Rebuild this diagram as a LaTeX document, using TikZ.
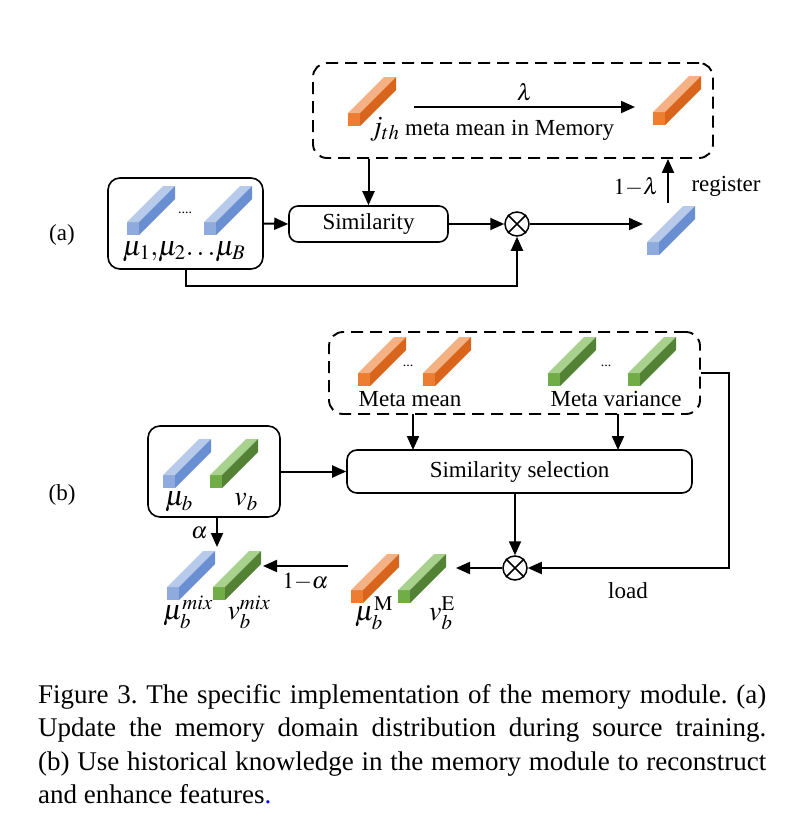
\documentclass[tikz,border=0pt]{standalone}
\usepackage{mathptmx}
\usepackage{fontspec}
\setmainfont{Liberation Serif}
\usetikzlibrary{arrows.meta}
\definecolor{oraF}{HTML}{ED7D31}
\definecolor{oraT}{HTML}{F4B183}
\definecolor{oraS}{HTML}{D8651B}
\definecolor{bluF}{HTML}{8FAADC}
\definecolor{bluT}{HTML}{B8CAEA}
\definecolor{bluS}{HTML}{6A8ED2}
\definecolor{greF}{HTML}{70AD47}
\definecolor{greT}{HTML}{A9D18E}
\definecolor{greS}{HTML}{548235}
\def\featbar(#1,#2)#3{%
	\fill[#3F] (#1,#2) rectangle ++(12,13);
	\fill[#3T] (#1,#2) -- ++(12,0) -- ++(36,-36) -- ++(-12,0) -- cycle;
	\fill[#3S] (#1+12,#2) -- ++(0,13) -- ++(36,-36) -- ++(0,-13) -- cycle;
}
\frenchspacing

\begin{document}
\begin{tikzpicture}[x=1pt,y=-1pt,
		every node/.style={font=\fontsize{23}{27}\selectfont},
		mlbl/.style={font=\fontsize{28}{30}\selectfont,inner sep=0pt},
		arr/.style={-{Triangle[length=14pt,width=12pt]},line width=2pt},
		box/.style={draw,line width=1.6pt,rounded corners=9pt,inner sep=0pt},
		dbox/.style={box,line width=1.9pt,dash pattern=on 12pt off 7pt,rounded corners=14pt},
		mult/.style={draw,circle,line width=1.5pt,minimum size=24pt,inner sep=0pt}]
				\useasboundingbox (0,0) rectangle (810,836);
				
				\node (la) at (62,235) {(a)};
				\node[dbox,minimum width=400pt,minimum height=95pt] (mem) at (513,110.5) {};
				\featbar(348,113){ora}
				\featbar(653,112){ora}
				\coordinate (lamS) at (414,107);
				\coordinate (lamE) at (635,107);
				\draw[arr] (lamS) -- node[above=2pt] {$\lambda$} (lamE);
				\node (jth) at (492,129) {{\fontsize{28}{30}\selectfont$j_{th}$} meta mean in Memory};
				
				\node[box,minimum width=155pt,minimum height=91pt,rounded corners=12pt] (inA) at (185.5,223.5) {};
				\featbar(127,222){blu}
				\featbar(204,222){blu}
				\node[font=\fontsize{14}{16}\selectfont] (dotsA) at (185,213) {....};
				\node[mlbl] (muA) at (184,252) {$\mu_1,\!\mu_2\!\ldots\!\mu_B$};
				\node[box,minimum width=159pt,minimum height=36pt] (sim) at (368.5,224) {Similarity};
				\node[mult] (ota) at (517,224) {};
				\draw[line width=1.5pt] (ota.north west) -- (ota.south east) (ota.north east) -- (ota.south west);
				\featbar(647,242){blu}
				\coordinate (newA) at (643,224);
				\coordinate (regS) at (668,203);
				
				\draw[arr] (sim.north |- mem.south) -- (sim.north);
				\draw[arr] (inA.east) -- (sim.west);
				\draw[arr] (sim.east) -- (ota.west);
				\draw[arr] (inA.south) -- ++(0,16) -| (ota.south);
				\draw[arr] (ota.east) -- (newA);
				\draw[arr] (regS) -- (regS |- mem.south);
				\node[anchor=east] (oml) at (662,187) {$1{-}\lambda$};
				\node[anchor=west] (reg) at (688,186) {register};
				
				\node (lb) at (62,495) {(b)};
				\node[dbox,minimum width=371pt,minimum height=82pt] (mem2) at (514.5,373) {};
				\featbar(358,373){ora}
				\featbar(423,373){ora}
				\featbar(548,373){gre}
				\featbar(628,373){gre}
				\node[font=\fontsize{14}{16}\selectfont] (dotsM) at (408,366) {...};
				\node[font=\fontsize{14}{16}\selectfont] (dotsV) at (606,366) {...};
				\node (mm) at (410,399) {Meta mean};
				\node (mv) at (616,399) {Meta variance};
				\node[box,minimum width=345pt,minimum height=43pt,rounded corners=10pt] (sel) at (519.5,471.5) {Similarity selection};
				\node[box,minimum width=132pt,minimum height=91pt,rounded corners=12pt] (inB) at (214,471.5) {};
				\featbar(163,475){blu}
				\featbar(210,475){gre}
				\node[mlbl] (mub) at (179,502) {$\mu_b$};
				\node[mlbl] (vb) at (246,502) {$v_b$};
				\featbar(167,587){blu}
				\featbar(213,587){gre}
				\node[mlbl] (mumix) at (188,612) {$\mu_b^{mix}$};
				\node[mlbl] (vmix) at (249,612) {$v_b^{mix}$};
				\node[mult] (otb) at (515,568) {};
				\draw[line width=1.5pt] (otb.north west) -- (otb.south east) (otb.north east) -- (otb.south west);
				\featbar(351,590){ora}
				\featbar(398,590){gre}
				\node[mlbl] (muM) at (374,613) {$\mu_b^{\mathrm{M}}$};
				\node[mlbl] (vE) at (442,613) {$v_b^{\mathrm{E}}$};
				\coordinate (mixIn) at (263,566);
				\coordinate (mixS) at (348,566);
				\coordinate (newB) at (456,568);
				\coordinate (alS) at (217,517);
				\coordinate (alE) at (217,547);
				
				\draw[arr] (413,414) -- (413,450);
				\draw[arr] (618,414) -- (618,450);
				\draw[arr] (inB.east) -- (sel.west);
				\draw[arr] (sel.south -| otb.north) -- (otb.north);
				\draw[arr] (mem2.east) -- ++(28,0) |- (otb.east);
				\node (load) at (628,591) {load};
				\draw[arr] (otb.west) -- (newB);
				\draw[arr] (mixS) -- node[below=3pt] {$1{-}\alpha$} (mixIn);
				\draw[arr] (alS) -- (alE);
				\node[anchor=east] (al) at (211,533) {$\alpha$};
				
				\node[anchor=north west,inner sep=0pt,text width=728pt,align=justify,font=\fontsize{27}{33.5}\selectfont] (cap) at (38,684) {Figure 3. The specific implementation of the memory module. (a)\linebreak Update the memory domain distribution during source training.\linebreak (b) Use historical knowledge in the memory module to reconstruct\linebreak and enhance features\textcolor{blue}{.}};
			\end{tikzpicture}
\end{document}
